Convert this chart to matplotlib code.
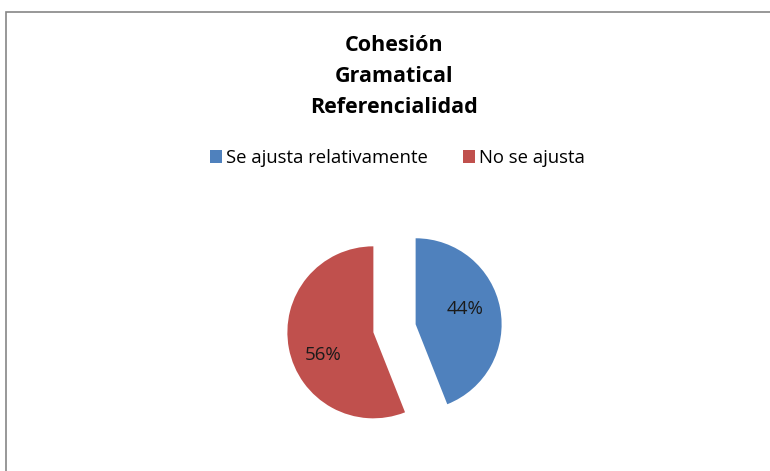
import matplotlib
matplotlib.use('Agg')
import matplotlib.pyplot as plt
from matplotlib.patches import Rectangle
import numpy as np

# datos
etiquetas = ['Se ajusta relativamente', 'No se ajusta']
valores = [44, 56]
colores = ['#4F81BD', '#C0504D']
titulo = 'Cohesión\nGramatical\nReferencialidad'

plt.rcParams['font.family'] = ['Open Sans', 'DejaVu Sans']

W, H = 770, 471
fig = plt.figure(figsize=(W / 100, H / 100), dpi=100)

# marco gris del grafico
fig.patches.append(Rectangle((6 / W, -0.1), 1.2, 1 - 12 / H + 0.1,
                             transform=fig.transFigure, fill=False,
                             edgecolor='#868686', linewidth=1.2))

# eje del pastel: centro (394.5, 328) px, radio 86 px
r = 86
cx, cy = 394.5, 328.3
lado = 3 * r
ax = fig.add_axes([(cx - lado / 2) / W, (H - cy - lado / 2) / H, lado / W, lado / H])
wedges, textos, autotextos = ax.pie(valores, colors=colores, startangle=90,
                                    counterclock=False, explode=[0.25, 0.25],
                                    autopct='%1.0f%%', pctdistance=0.6,
                                    textprops={'fontsize': 13.5, 'color': '#1a1a1a'})
# etiquetas un poco giradas, como en Excel
for w, t in zip(wedges, autotextos):
    ang = np.deg2rad((w.theta1 + w.theta2) / 2 + 10)
    t.set_position((w.center[0] + 0.62 * np.cos(ang), w.center[1] + 0.62 * np.sin(ang) - 0.04))
ax.set_xlim(-1.5, 1.5)
ax.set_ylim(-1.5, 1.5)
ax.set_aspect('equal')
ax.axis('off')

fig.text(0.512, 1 - 35 / H, titulo, ha='center', va='top', fontsize=15.5,
         fontweight='bold', linespacing=1.62)

fig.legend(wedges, etiquetas, loc='center', bbox_to_anchor=(0.516, 1 - 158 / H),
           ncol=2, frameon=False, fontsize=13.3, handlelength=0.65, handleheight=0.65,
           handletextpad=0.2, columnspacing=1.9)

plt.savefig('out.png', dpi=100)
